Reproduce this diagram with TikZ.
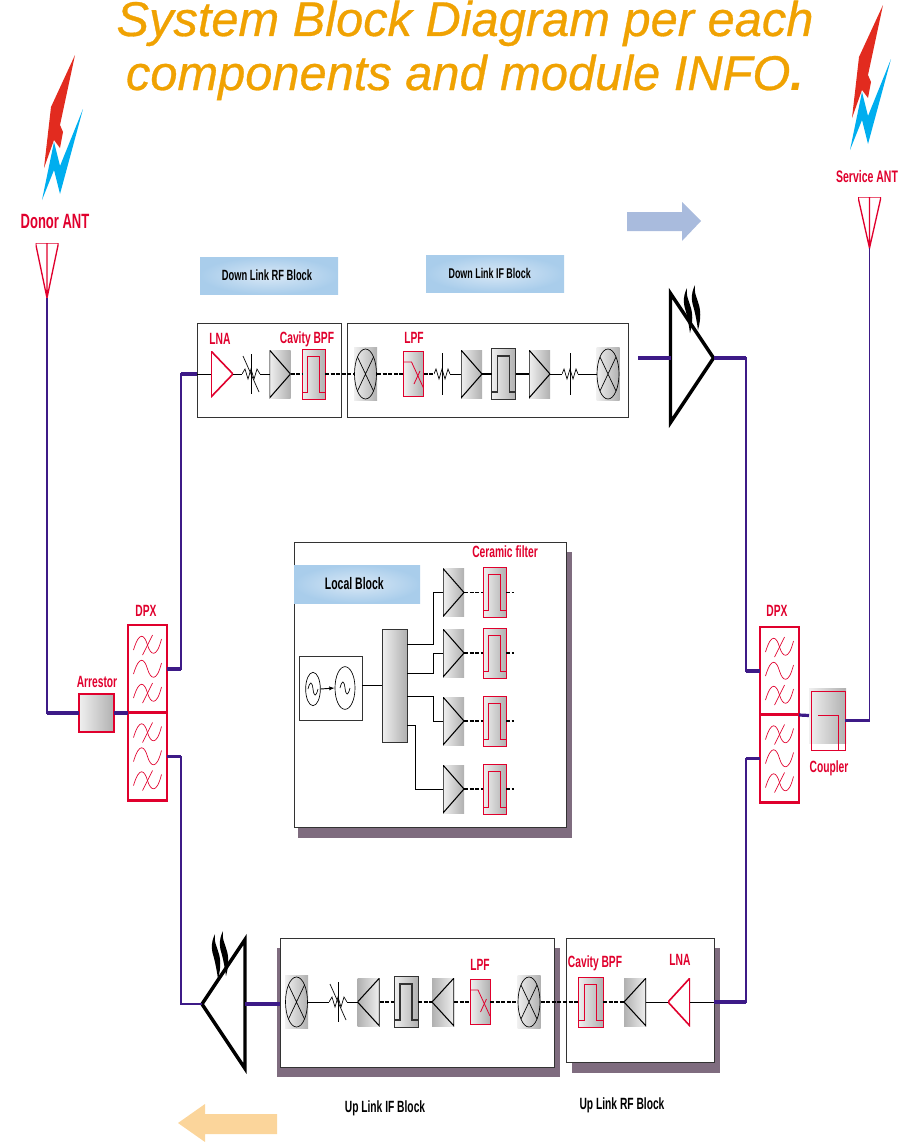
\documentclass[tikz,border=0pt]{standalone}
\usepackage{xcolor}
\usepackage{fontspec}
\setmainfont{Liberation Sans}
\newfontfamily\narrowfont[FakeStretch=0.63]{Liberation Sans}
\newfontfamily\titlefont[ItalicFeatures={FakeBold=0.6}]{Liberation Sans}
\usepackage{tikz}
\usetikzlibrary{shapes.geometric}
\usetikzlibrary{arrows.meta}

\definecolor{titleorange}{HTML}{F0A202}
\definecolor{partred}{HTML}{E0002D}
\definecolor{feedblue}{HTML}{3D1A87}
\definecolor{shadowgrey}{HTML}{7F6C7F}
\definecolor{boltred}{HTML}{E22B1F}
\definecolor{boltblue}{HTML}{00AEEF}
\definecolor{labelin}{HTML}{D9E8F6}
\definecolor{labelout}{HTML}{A9CDEB}
\definecolor{arrowblue}{HTML}{A9BBDD}
\definecolor{arroworange}{HTML}{FBD59B}

\def\ppb{path picture bounding box}

\tikzset{
  size/.style 2 args={minimum width=#1*0.75pt, minimum height=#2*0.75pt, inner sep=0pt, outer sep=0pt},
  greyfill/.style={left color=gray!12, right color=gray!62},
  greyback/.style={left color=gray!62, right color=gray!12},
  partline/.style={draw=partred, line width=0.6pt},
  redtext/.style={font=\narrowfont\bfseries\fontsize{12.2}{14}\selectfont, text=partred},
  blacktext/.style={font=\narrowfont\bfseries\fontsize{12.2}{14}\selectfont, text=black},
  titletext/.style={anchor=base, inner sep=0pt, text=titleorange, font=\titlefont\itshape\fontsize{36.6}{40}\selectfont},
  blocklabel/.style={inner color=labelin, outer color=labelout, inner sep=0pt, outer sep=0pt, font=\narrowfont\bfseries\fontsize{11.1}{13}\selectfont},
  blockbox/.style={draw=black!80, fill=white, line width=0.6pt},
  sigline/.style={black, line width=0.6pt},
  sigdash/.style={black, line width=0.9pt, dash pattern=on 3pt off 1.2pt},
  sigfat/.style={black, line width=1.2pt},
  feed/.style={feedblue, line width=1.4pt},
  feedfat/.style={feedblue, line width=2.4pt},
  ampright/.style={size={21}{48}, greyfill, path picture={
      \draw[black, line width=0.8pt] (\ppb.north west) -- (\ppb.east) -- (\ppb.south west) -- cycle;}},
  ampleft/.style={size={22}{48}, greyback, path picture={
      \draw[black, line width=0.8pt] (\ppb.north east) -- (\ppb.west) -- (\ppb.south east) -- cycle;}},
  lnaright/.style={size={22}{46}, path picture={
      \draw[partred, line width=1.2pt] (\ppb.north west) -- (\ppb.east) -- (\ppb.south west) -- cycle;}},
  lnaleft/.style={size={22}{48}, path picture={
      \draw[partred, line width=1.2pt] (\ppb.north east) -- (\ppb.west) -- (\ppb.south east) -- cycle;}},
  mixer/.style={size={23}{53}, greyfill, path picture={
      \begin{scope}[shift={(\ppb.center)}]
        \draw[black, line width=0.5pt] (0,0) ellipse (11 and 25);
        \draw[black, line width=0.5pt] (-8,-17) -- (8,17) (8,-17) -- (-8,17);
      \end{scope}}},
  bpfred/.style={size={23}{50}, greyfill, partline, path picture={
      \draw[partred, line width=0.7pt, shift={(\ppb.center)}] (-12,18) -- (-6,18) -- (-6,-18) -- (6,-18) -- (6,18) -- (12,18);}},
  bpfblack/.style={size={24}{51}, greyfill, draw=black!80, line width=0.7pt, path picture={
      \draw[black!80, line width=0.8pt, shift={(\ppb.center)}] (-12,18) -- (-6,18) -- (-6,-18) -- (6,-18) -- (6,18) -- (12,18);}},
  lpfpart/.style={size={20}{45}, greyfill, partline, path picture={
      \begin{scope}[shift={(\ppb.center)}, xscale=#1]
        \draw[partred, line width=0.6pt] (-10,-12) -- (-2,-12) -- (10,14);
        \draw[partred, line width=0.6pt] (0.5,10) -- (6.5,-3);
      \end{scope}}},
  attvar/.style={size={18}{42}, path picture={
      \begin{scope}[shift={(\ppb.center)}]
        \draw[black, line width=0.5pt] (-9,0) -- (-6,-5) -- (-3,5) -- (0,-5) -- (3,5) -- (6,-5) -- (9,0);
        \draw[black, line width=0.5pt] (0,-20) -- (0,20);
        \draw[black, line width=0.5pt] (-8,-18) -- (8,18);
      \end{scope}}},
  attfix/.style={size={16}{42}, path picture={
      \begin{scope}[shift={(\ppb.center)}]
        \draw[black, line width=0.5pt] (-8,0) -- (-6,-5) -- (-3,5) -- (0,-5) -- (3,5) -- (6,-5) -- (8,0);
        \draw[black, line width=0.5pt] (0,-21) -- (0,21);
      \end{scope}}},
  dpxpart/.style={size={39}{88}, draw=partred, line width=1.6pt, path picture={
      \begin{scope}[shift={(\ppb.center)}, yscale=#1]
        \foreach \ry in {-24,0,24}{
          \draw[partred, line width=0.5pt] (-14,\ry+5) .. controls (-8,\ry-15) and (-3,\ry-10) .. (0,\ry) .. controls (3,\ry+10) and (9,\ry+14) .. (14,\ry-6);
        }
        \foreach \ry in {-24,24}{
          \draw[partred, line width=0.5pt] (-5,\ry+10) -- (5,\ry-10);
        }
      \end{scope}}},
  antenna/.style={size={23}{55}, path picture={
      \draw[partred, line width=1pt] (\ppb.north west) -- (\ppb.south) -- (\ppb.north east) -- cycle (\ppb.north) -- (\ppb.south);}},
  oscwave/.style={draw=black, line width=0.5pt, ellipse, inner sep=0pt, path picture={
      \draw[black, line width=0.5pt, shift={(\ppb.center)}] (-5,0) .. controls (-3,-8) and (-1,-8) .. (0,0) .. controls (1,8) and (3,8) .. (5,0);}},
  patri/.style={black, line width=2.6pt, line join=miter},
}

\begin{document}
\begin{tikzpicture}[x=0.75pt, y=-0.75pt]
\useasboundingbox (0, 0) rectangle (910, 1142);
\clip (0, 0) rectangle (910, 1142);

% title
\node[titletext] (titleone) at (465, 36) {System Block Diagram per each};
\node[titletext] (titletwo) at (465, 90) {components and module INFO\textbf{.}};

% lightning, left then right
\foreach \dx/\dy in {0/0, 808/-50} {
  \begin{scope}[shift={(\dx, \dy)}]
    \fill[boltred] (75, 55) -- (60, 125) -- (63, 132) -- (60, 148) -- (54, 140) -- (44, 168) -- (51, 107) -- cycle;
    \fill[boltblue] (83, 109) -- (60, 166) -- (54, 142) -- (42, 200) -- (54, 170) -- (60, 194) -- cycle;
  \end{scope}
}

% direction arrows
\fill[arrowblue] (627, 212) -- (682, 212) -- (682, 202) -- (701, 221) -- (682, 241) -- (682, 231) -- (627, 231) -- cycle;
\fill[arroworange] (277, 1114) -- (205, 1114) -- (205, 1104) -- (178, 1123) -- (205, 1142) -- (205, 1134) -- (277, 1134) -- cycle;

% shadows
\fill[shadowgrey] (298, 552) rectangle (572, 838);
\fill[shadowgrey] (277, 948) rectangle (560, 1077);
\fill[shadowgrey] (572, 948) rectangle (720, 1073);

% blocks
\node[blockbox, size={144}{94}] (dlrf) at (269, 370) {};
\node[blockbox, size={281}{94}] (dlif) at (487.5, 370) {};
\node[blockbox, size={272}{285}] (localb) at (430, 684.5) {};
\node[blockbox, size={274}{129}] (ulif) at (417, 1002.5) {};
\node[blockbox, size={148}{124}] (ulrf) at (640, 1000) {};

\node[blocklabel, size={138}{37}] (dlrflabel) at (269, 275.5) {Down Link RF Block\hspace*{3pt}};
\node[blocklabel, size={138}{37}, font=\narrowfont\bfseries\fontsize{10.6}{13}\selectfont] (dliflabel) at (495, 273.5) {Down Link IF Block\hspace*{8pt}};
\node[blocklabel, size={126}{38}, font=\narrowfont\bfseries\fontsize{12.5}{14}\selectfont] (locallabel) at (357, 584) {Local Block\hspace*{4pt}};
\node[blacktext] (uliflabel) at (385, 1108) {Up Link IF Block};
\node[blacktext] (ulrflabel) at (622, 1105) {Up Link RF Block};

% antennas
\node[antenna] (donorant) at (47, 270.5) {};
\node[antenna, size={23}{51}] (serviceant) at (869.5, 222.5) {};
\node[redtext, font=\narrowfont\bfseries\fontsize{15.5}{18}\selectfont] (donorlabel) at (55, 221) {Donor ANT};
\node[redtext, font=\narrowfont\bfseries\fontsize{12.5}{14}\selectfont] (servicelabel) at (867, 177) {Service ANT};

% left and right front ends
\node[size={35}{38}, greyfill, draw=partred, line width=1pt] (arrestor) at (96.5, 713) {};
\node[redtext] (arrestorlabel) at (97, 682) {Arrestor};
\node[dpxpart=1] (dpxlup) at (147.5, 669) {};
\node[dpxpart=1] (dpxldown) at (147.5, 756.5) {};
\node[redtext] (dpxllabel) at (146, 611) {DPX};
\node[dpxpart=-1] (dpxrup) at (779.5, 671) {};
\node[dpxpart=-1] (dpxrdown) at (779.5, 758.5) {};
\node[redtext] (dpxrlabel) at (777, 611) {DPX};
\node[size={37}{55}, greyfill] (coupler) at (827.5, 715.5) {};
\node[size={34}{59}, draw=partred, line width=0.7pt, path picture={
    \draw[partred, line width=0.7pt, shift={(\ppb.center)}] (-10, -5.5) -- (10, -5.5) -- (10, 30);}] (couplerbox) at (828, 720.5) {};
\node[redtext] (couplerlabel) at (829, 768) {Coupler};

% power amplifiers
\node[size={43}{129}] (paup) at (692, 358) {};
\draw[patri] (paup.north west) -- (paup.east) -- (paup.south west) -- cycle;
\node[size={43}{129}] (padown) at (223.5, 1004) {};
\draw[patri] (padown.north east) -- (padown.west) -- (padown.south east) -- cycle;
\foreach \dx/\dy in {0/0, -472/646} {
  \begin{scope}[shift={(\dx, \dy)}]
    \foreach \sx/\sy in {0/0, 8/-3} {
      \fill[black, shift={(\sx, \sy)}] (687, 288) .. controls (682, 298) and (684, 306) .. (686, 312) .. controls (688, 320) and (689, 326) .. (690, 333) .. controls (693, 322) and (693, 313) .. (690, 305) .. controls (688, 298) and (686, 296) .. (687, 288) -- cycle;
    }
  \end{scope}
}

% down link parts
\node[lnaright] (dllna) at (222, 374) {};
\node[attvar] (dlatt) at (251, 374) {};
\node[ampright] (dlamp) at (280, 374) {};
\node[bpfred] (dlbpf) at (313.5, 374) {};
\node[mixer] (dlmixa) at (365.5, 374) {};
\node[lpfpart=1] (dllpf) at (413.5, 374) {};
\node[attfix] (dlatta) at (442, 374) {};
\node[ampright] (dlampa) at (471.5, 374) {};
\node[bpfblack] (dlbpfa) at (503.5, 374) {};
\node[ampright] (dlampb) at (539.5, 374) {};
\node[attfix] (dlattb) at (570, 374) {};
\node[mixer] (dlmixb) at (608, 374) {};
\node[redtext] (dllnalabel) at (220, 339) {LNA};
\node[redtext] (dlbpflabel) at (307, 339) {Cavity BPF};
\node[redtext] (dllpflabel) at (414, 338) {LPF};

\foreach \from/\to in {dllna/dlatt, dlatt/dlamp, dlatta/dlampa, dlampb/dlattb, dlattb/dlmixb} {
  \draw[sigline] (\from.east) -- (\to.west);
}
\foreach \from/\to in {dlamp/dlbpf, dlbpf/dlmixa, dlmixa/dllpf, dllpf/dlatta} {
  \draw[sigdash] (\from.east) -- (\to.west);
}
\foreach \from/\to in {dlampa/dlbpfa, dlbpfa/dlampb} {
  \draw[sigfat] (\from.east) -- (\to.west);
}
\draw[sigline] (dlrf.west |- dllna) -- (dllna.west);

% local block
\node[draw=black!80, line width=0.7pt, size={63}{64}] (osc) at (330.5, 688) {};
\node[oscwave, minimum width=11pt, minimum height=25pt] (osca) at (313, 689) {};
\node[oscwave, minimum width=15pt, minimum height=32pt] (oscb) at (345, 688) {};
\draw[-{Latex[length=4pt]}, black, line width=0.7pt] (osca.east) -- (oscb.west);
\node[size={25}{113}, greyfill, draw=black!80, line width=0.7pt] (split) at (394.5, 685.5) {};
\draw[sigline] (osc.east |- split.west) -- (split.west);
\node[redtext] (ceramiclabel) at (505, 552) {Ceramic filter};
\foreach \i/\ry/\py/\kx in {1/592.5/644/433, 2/653/673/433, 3/721/696/433, 4/789/725/415} {
  \node[ampright] (lamp\i) at (453.5, \ry) {};
  \node[bpfred] (lbpf\i) at (494.5, \ry) {};
  \coordinate (lport\i) at (407, \py);
  \coordinate (lout\i) at (514, \ry);
  \draw[sigline] (lport\i) -- (\kx, \py) |- (lamp\i.west);
  \draw[sigdash] (lamp\i.east) -- (lbpf\i.west);
  \draw[sigdash] (lbpf\i.east) -- (lout\i);
}

% up link parts
\node[mixer] (ulmixa) at (296.5, 1002) {};
\node[attvar] (ulatt) at (338, 1002) {};
\node[ampleft] (ulampa) at (368.5, 1002) {};
\node[bpfblack] (ulbpfa) at (406, 1002) {};
\node[ampleft] (ulampb) at (443, 1002) {};
\node[lpfpart=-1] (ullpf) at (480, 1002) {};
\node[mixer] (ulmixb) at (529, 1002) {};
\node[bpfred, size={25}{50}] (ulbpf) at (590.5, 1002) {};
\node[ampleft] (ulampc) at (635, 1002) {};
\node[lnaleft] (ullna) at (679, 1002) {};
\node[redtext] (ullpflabel) at (480, 965) {LPF};
\node[redtext] (ulbpflabel) at (595, 963) {Cavity BPF};
\node[redtext] (ullnalabel) at (680, 960) {LNA};

\foreach \from/\to in {ulmixa/ulatt, ulatt/ulampa, ulampc/ullna} {
  \draw[sigline] (\from.east) -- (\to.west);
}
\foreach \from/\to in {ulampa/ulbpfa, ulbpfa/ulampb, ulampb/ullpf, ullpf/ulmixb, ulmixb/ulbpf, ulbpf/ulampc} {
  \draw[sigdash] (\from.east) -- (\to.west);
}
\draw[sigline] (ullna.east) -- (ulrf.east |- ullna);

% feed lines
\coordinate (pain) at (638, 358);
\coordinate (leftup) at (181, 669);
\coordinate (leftdown) at (181, 756.5);
\coordinate (rightup) at (746, 671);
\coordinate (rightdown) at (746, 758.5);
\draw[feed] (donorant.south) |- (arrestor.west);
\draw[feed] (dpxlup.east) -- (leftup) |- (dlrf.west |- dllna);
\draw[feed] (dpxldown.east) -- (leftdown) |- (padown.west);
\draw[feed] (paup.east) -| (rightup) -- (dpxrup.west);
\draw[feed] (ulrf.east |- ullna) -| (rightdown) -- (dpxrdown.west);
\draw[feed] (couplerbox.east) -| (serviceant.south);
\draw[feedfat] (pain) -- (paup.west);
\draw[feedfat] (padown.east) -- (ulif.west |- padown);
\draw[feedfat] (arrestor.east) -- (dpxlup.south west);
\draw[feedfat] (dpxrup.south east) -- (coupler.west);
\draw[feedfat] (donorant.south |- arrestor.west) -- (arrestor.west);
\draw[feedfat] (dpxlup.east) -- (leftup);
\draw[feedfat] (dpxldown.east) -- (leftdown);
\draw[feedfat] (dpxrup.west) -- (rightup);
\draw[feedfat] (dpxrdown.west) -- (rightdown);
\draw[feedfat] (paup.east) -- (rightup |- paup.east);
\draw[feedfat] (couplerbox.east) -- (serviceant.south |- couplerbox.east);
\draw[feedfat] (leftup |- dllna) -- (dlrf.west |- dllna);
\draw[feedfat] (ulrf.east |- ullna) -- (rightdown |- ullna);
\end{tikzpicture}
\end{document}
